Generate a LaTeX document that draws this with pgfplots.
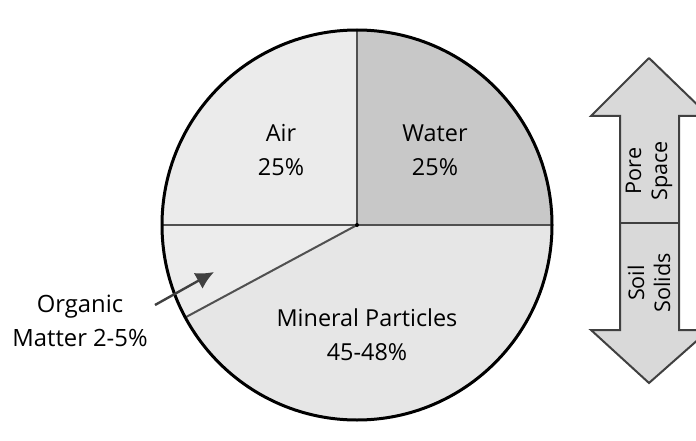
\documentclass[border=0pt]{standalone}
\usepackage{pgfplots}
\pgfplotsset{compat=1.18}
\usetikzlibrary{arrows.meta}
\usepackage{fontspec}
\setmainfont{Open Sans}
\definecolor{airc}{HTML}{EBEBEB}
\definecolor{waterc}{HTML}{C8C8C8}
\definecolor{minc}{HTML}{E6E6E6}
\definecolor{orgc}{HTML}{ECECEC}
\definecolor{edgec}{HTML}{505050}
\definecolor{arrc}{HTML}{D9D9D9}
\begin{document}
\begin{tikzpicture}
\begin{axis}[
  name=ax,
  x=0.5pt, y=0.5pt,
  xmin=0, xmax=696, ymin=0, ymax=440,
  hide axis, clip=true,
  scale only axis,
]
% slices (Water, Air, Organic, Mineral): start/end angles in degrees
\fill[waterc] (axis cs:357,215) -- ++(0:97.5pt) arc[start angle=0, end angle=90, radius=97.5pt] -- cycle;
\fill[airc] (axis cs:357,215) -- ++(90:97.5pt) arc[start angle=90, end angle=180, radius=97.5pt] -- cycle;
\fill[orgc] (axis cs:357,215) -- ++(180:97.5pt) arc[start angle=180, end angle=208.3, radius=97.5pt] -- cycle;
\fill[minc] (axis cs:357,215) -- ++(208.3:97.5pt) arc[start angle=208.3, end angle=360, radius=97.5pt] -- cycle;
\draw[edgec, line width=1.2pt] (axis cs:357,215) -- ++(0:97.5pt);
\draw[edgec, line width=1.2pt] (axis cs:357,215) -- ++(90:97.5pt);
\draw[edgec, line width=1.2pt] (axis cs:357,215) -- ++(180:97.5pt);
\draw[edgec, line width=1pt] (axis cs:357,215) -- ++(208.3:97.5pt);
\draw[black, line width=1.5pt] (axis cs:357,215) circle[radius=97.5pt];
\fill[black] (axis cs:357,215) circle[radius=1pt];
% labels
\node[align=center, font=\fontsize{11.7}{17}\selectfont] at (axis cs:281,290) {Air\\25\%};
\node[align=center, font=\fontsize{11.7}{17}\selectfont] at (axis cs:435,290) {Water\\25\%};
\node[align=center, font=\fontsize{11.7}{17}\selectfont] at (axis cs:367,105) {Mineral Particles\\45-48\%};
\node[align=center, font=\fontsize{11.9}{17}\selectfont] at (axis cs:80,119) {Organic\\Matter 2-5\%};
\draw[-{Latex[length=9pt,width=9pt]}, black!75, line width=1.2pt] (axis cs:155,135) -- (axis cs:214,168);
% double arrow (Pore Space / Soil Solids)
\addplot[draw=black!75, line width=1pt, fill=arrc] coordinates {
(649,382) (709,324) (679,324) (679,110) (709,110) (649,57) (591,110) (620,110) (620,324) (591,324) (649,382)
};
\addplot[draw=black!75, line width=1pt] coordinates {(620,217) (679,217)};
\node[rotate=90, align=center, font=\fontsize{10.8}{13}\selectfont] at (axis cs:649,269) {Pore\\Space};
\node[rotate=90, align=center, font=\fontsize{10.8}{13}\selectfont] at (axis cs:649,157) {Soil\\Solids};
\end{axis}
\pgfresetboundingbox
\path (ax.south west) rectangle (ax.north east);
\end{tikzpicture}
\end{document}
